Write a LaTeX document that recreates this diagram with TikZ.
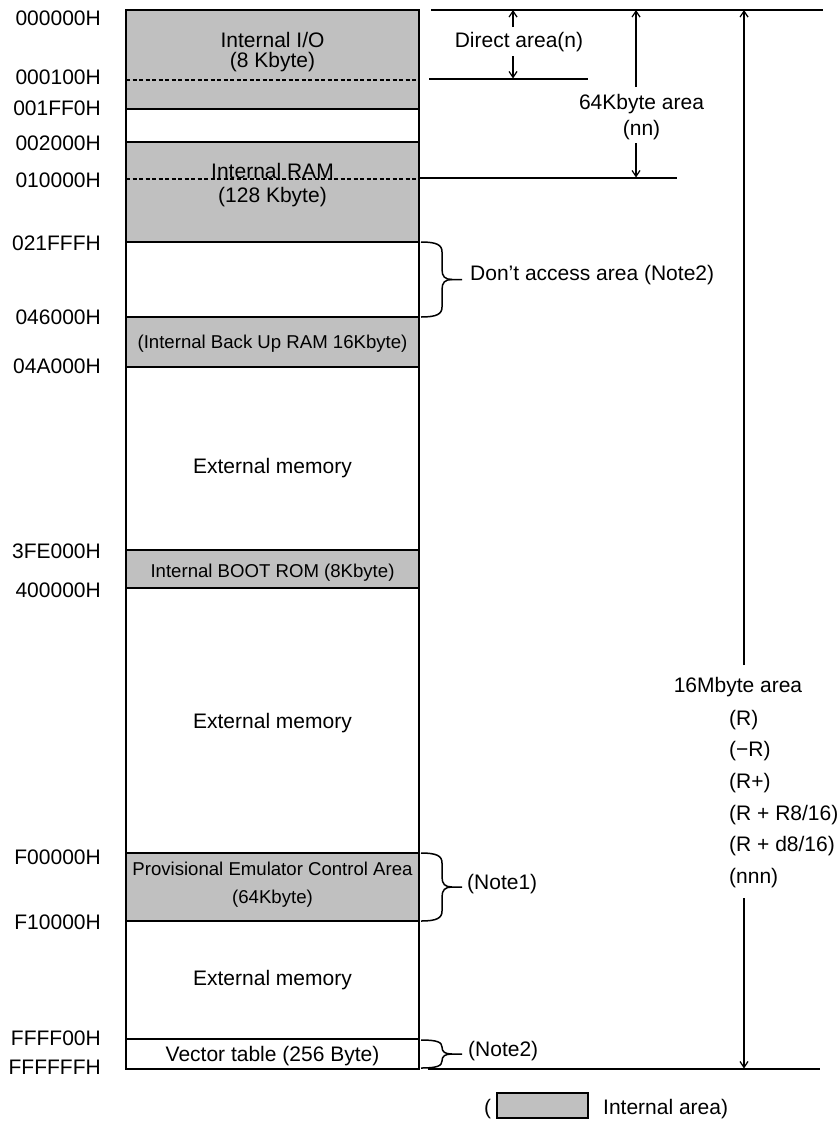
\documentclass[tikz,border=0pt]{standalone}
\usepackage{fontspec}
\setmainfont{Liberation Sans}
\usetikzlibrary{arrows.meta}
\definecolor{memgray}{HTML}{C0C0C0}
\tikzset{
  big/.style={font=\fontsize{21}{24}\selectfont, inner sep=0pt},
  small/.style={font=\fontsize{18.6}{22}\selectfont, inner sep=0pt},
  addr/.style={big, anchor=base east},
  lbl/.style={big, anchor=base},
  slbl/.style={small, anchor=base},
  lleft/.style={big, anchor=base west},
  boxline/.style={line width=1.6pt},
  outerline/.style={line width=2pt},
  dashline/.style={line width=1.3pt, dash pattern=on 4pt off 2.5pt},
  dimarrow/.style={line width=1.3pt, -{Straight Barb[length=6pt,width=8pt,line width=1.2pt]}},
  refline/.style={line width=1.6pt},
  brc/.style={line width=1.5pt},
  legendbox/.style={fill=memgray, draw=black, line width=1.3pt},
}
\newcommand{\membrace}[2]{%
  \pgfmathsetmacro{\bt}{#1}%
  \pgfmathsetmacro{\bb}{#2}%
  \pgfmathsetmacro{\bm}{(#1+#2)/2}%
  \pgfmathsetmacro{\br}{min(10,(#2-#1)/4)}%
  \draw[brc] (421,\bt) .. controls (437,\bt) and (442,\bt+0.3*\br) .. (442,\bt+\br)
    -- (442,\bm-\br) .. controls (442,\bm-0.3*\br) and (445,\bm) .. (452,\bm) -- (462,\bm);
  \draw[brc] (452,\bm) .. controls (445,\bm) and (442,\bm+0.3*\br) .. (442,\bm+\br)
    -- (442,\bb-\br) .. controls (442,\bb-0.3*\br) and (437,\bb) .. (421,\bb);
}
\begin{document}
\begin{tikzpicture}[x=1pt,y=-1pt]
\useasboundingbox (0,0) rectangle (839,1122);

% gray (internal) regions
\fill[memgray] (126,10) rectangle (419,109);
\fill[memgray] (126,142) rectangle (419,242);
\fill[memgray] (126,317) rectangle (419,367);
\fill[memgray] (126,550) rectangle (419,588);
\fill[memgray] (126,853) rectangle (419,921);

% dividing lines
\foreach \yy in {109,142,242,317,367,550,588,853,921,1039}
  \draw[boxline] (126,\yy) -- (419,\yy);
\draw[dashline] (126,80) -- (419,80);
\draw[dashline] (126,179) -- (419,179);
\draw[outerline] (126,10) rectangle (419,1069);

% address labels
\node[addr] (a0)  at (101,25.5)  {000000H};
\node[addr] (a1)  at (101,84.5)  {000100H};
\node[addr] (a2)  at (101,115)   {001FF0H};
\node[addr] (a3)  at (101,150.5) {002000H};
\node[addr] (a4)  at (101,187.5) {010000H};
\node[addr] (a5)  at (101,250)   {021FFFH};
\node[addr] (a6)  at (101,324.5) {046000H};
\node[addr] (a7)  at (101,373.5) {04A000H};
\node[addr] (a8)  at (101,558.5) {3FE000H};
\node[addr] (a9)  at (101,597.5) {400000H};
\node[addr] (a10) at (101,864.5) {F00000H};
\node[addr] (a11) at (101,929)   {F10000H};
\node[addr] (a12) at (101,1045.5){FFFF00H};
\node[addr] (a13) at (101,1074.5){FFFFFFH};

% region labels
\node[lbl] (io1)  at (272.5,47)    {Internal I/O};
\node[lbl] (io2)  at (272.5,67.2)  {(8 Kbyte)};
\node[lbl] (ram1) at (272.5,178.5) {Internal RAM};
\node[lbl] (ram2) at (272.5,202.5) {(128 Kbyte)};
\node[slbl] (bup) at (272.5,348.7) {(Internal Back Up RAM 16Kbyte)};
\node[lbl] (ext1) at (272.5,473.5) {External memory};
\node[slbl] (boot) at (272.5,577.7) {Internal BOOT ROM (8Kbyte)};
\node[lbl] (ext2) at (272.5,728)   {External memory};
\node[slbl] (emu1) at (272.5,875.7) {Provisional Emulator Control Area};
\node[slbl] (emu2) at (272.5,903.7) {(64Kbyte)};
\node[lbl] (ext3) at (272.5,985.5) {External memory};
\node[lbl] (vec)  at (272.5,1061.5){Vector table (256 Byte)};

% reference lines
\coordinate (topL) at (431,10);   \coordinate (topR) at (823,10);
\coordinate (dirL) at (429,79);   \coordinate (dirR) at (588,79);
\coordinate (kL)   at (420,178);  \coordinate (kR)   at (677,178);
\coordinate (botL) at (428,1069); \coordinate (botR) at (820,1069);
\draw[refline] (topL) -- (topR);
\draw[refline] (dirL) -- (dirR);
\draw[refline] (kL) -- (kR);
\draw[refline] (botL) -- (botR);

% Direct area
\node[lbl] (direct) at (519,47.5) {Direct area(n)};
\coordinate (dA1) at (513,27);  \coordinate (dA1t) at (513,10);
\coordinate (dA2) at (513,56);  \coordinate (dA2t) at (513,78.5);
\draw[dimarrow] (dA1) -- (dA1t);
\draw[dimarrow] (dA2) -- (dA2t);

% 64Kbyte area
\node[lbl] (k64a) at (641.5,109.5) {64Kbyte area};
\node[lbl] (k64b) at (641.5,135.5) {(nn)};
\coordinate (kA1) at (636,87);  \coordinate (kA1t) at (636,10);
\coordinate (kA2) at (636,143); \coordinate (kA2t) at (636,177.5);
\draw[dimarrow] (kA1) -- (kA1t);
\draw[dimarrow] (kA2) -- (kA2t);

% 16Mbyte area
\node[lbl] (m16) at (738,692) {16Mbyte area};
\node[lleft] (r1) at (729,725)   {(R)};
\node[lleft] (r2) at (729,756.7) {(−R)};
\node[lleft] (r3) at (729,788.3) {(R+)};
\node[lleft] (r4) at (729,820)   {(R + R8/16)};
\node[lleft] (r5) at (729,851.7) {(R + d8/16)};
\node[lleft] (r6) at (729,883.4) {(nnn)};
\coordinate (mA1) at (744,665); \coordinate (mA1t) at (744,10);
\coordinate (mA2) at (744,898); \coordinate (mA2t) at (744,1068.5);
\draw[dimarrow] (mA1) -- (mA1t);
\draw[dimarrow] (mA2) -- (mA2t);

% braces and notes
\membrace{242}{317}
\node[lleft] (dont) at (470,280) {Don’t access area (Note2)};
\membrace{853}{921}
\node[lleft] (n1) at (467,889) {(Note1)};
\membrace{1040}{1068}
\node[lleft] (n2) at (468,1056.5) {(Note2)};

% legend
\node[lleft] (lp) at (484,1114) {(};
\draw[legendbox] (497,1093) rectangle (588,1118);
\node[lleft] (lg) at (603,1114) {Internal area)};
\end{tikzpicture}
\end{document}
